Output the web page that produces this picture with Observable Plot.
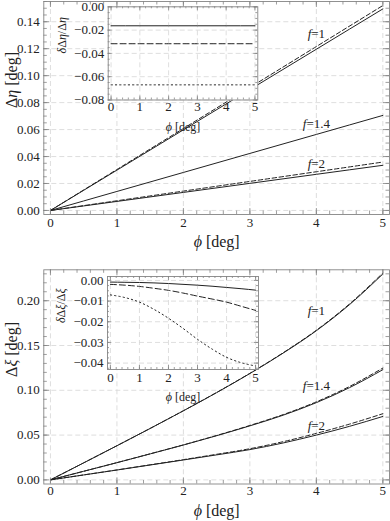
<!DOCTYPE html>
<html><head><meta charset="utf-8">
<script src="https://cdn.jsdelivr.net/npm/d3@7"></script>
<script src="https://cdn.jsdelivr.net/npm/@observablehq/plot@0.6"></script>
<style>
body{margin:0;background:#fff;}
#root{position:relative;width:390px;height:521px;font-family:"Liberation Serif",serif;overflow:hidden;}
#root svg{position:absolute;}
</style></head><body><div id="root"></div><script>
// ---------- data ----------
const phiTop = [0, 1, 2, 3, 4, 5];
const etaF1Solid  = [0, 0.0299, 0.0598, 0.0897, 0.1196, 0.1495];
const etaF1Dashed = [0, 0.0304, 0.0608, 0.0912, 0.1216, 0.1520];
const etaF14Solid = [0, 0.0141, 0.0282, 0.0423, 0.0564, 0.0705];
const etaF2Solid  = [0, 0.0067, 0.0134, 0.0201, 0.0268, 0.0335];
const etaF2Dashed = [0, 0.00718, 0.01436, 0.02154, 0.02872, 0.0359];

const relEtaF1  = [-0.0163, -0.0163, -0.0163, -0.0163, -0.0163, -0.0163];
const relEtaF14 = [-0.0317, -0.0317, -0.0317, -0.0317, -0.0317, -0.0317];
const relEtaF2  = [-0.0670, -0.0670, -0.0670, -0.0670, -0.0670, -0.0670];

const phiBottom = [0, 0.5, 1, 1.5, 2, 2.5, 3, 3.5, 4, 4.5, 5];
const xiF1Solid   = [0, 0.0190, 0.0381, 0.0574, 0.0771, 0.0974, 0.1187, 0.1415, 0.1665, 0.1957, 0.2298];
const xiF1Dashed  = [0, 0.01902, 0.03814, 0.05747, 0.07722, 0.09758, 0.11897, 0.14190, 0.16707, 0.19648, 0.23089];
const xiF14Solid  = [0, 0.0096, 0.0192, 0.0290, 0.0389, 0.0493, 0.0603, 0.0722, 0.0862, 0.1030, 0.1230];
const xiF14Dashed = [0, 0.00962, 0.01926, 0.02911, 0.03909, 0.0496, 0.06076, 0.07286, 0.08711, 0.1043, 0.1248];
const xiF2Solid   = [0, 0.0055, 0.0110, 0.0166, 0.0222, 0.0279, 0.0338, 0.0412, 0.0500, 0.0598, 0.0708];
const xiF2Dashed  = [0, 0.00555, 0.01112, 0.01684, 0.02261, 0.02856, 0.03479, 0.04262, 0.05193, 0.06228, 0.07386];

const relXiF1  = [-0.0008, -0.0009, -0.0010, -0.0012, -0.0015, -0.0019, -0.0023, -0.0028, -0.0034, -0.0040, -0.0047];
const relXiF14 = [-0.0019, -0.0023, -0.0029, -0.0038, -0.0048, -0.0061, -0.0076, -0.0090, -0.0105, -0.0125, -0.0145];
const relXiF2  = [-0.0070, -0.0083, -0.0105, -0.0140, -0.0183, -0.0232, -0.0285, -0.0332, -0.0372, -0.0398, -0.0414];

const phiTicks = [0, 1, 2, 3, 4, 5];
const etaTicks = [0, 0.02, 0.04, 0.06, 0.08, 0.10, 0.12, 0.14];
const xiTicks = [0, 0.05, 0.10, 0.15, 0.20];
const relEtaTicks = [0, -0.02, -0.04, -0.06, -0.08];
const relXiTicks = [0, -0.01, -0.02, -0.03, -0.04];

const labelText = ["f=1", "f=1.4", "f=2"];
const labelPhi = [4.0, 4.0, 4.0];
const labelEtaY = [0.1309, 0.0642, 0.0346];
const labelXiY = [0.1884, 0.1050, 0.0600];

// ---------- helpers ----------
const rows = (xs, ys) => xs.map((x, i) => ({x, y: ys[i]}));
const steps = (a, b, s) => d3.range(Math.round((b - a) / s) + 1).map(i => +(a + i * s).toFixed(6));
const INK = "#222", FRAME = "#858585", GRID = "#d6d6d6";
const FONT = "Liberation Serif";

function framed(o) {
  const W = o.width - o.ml - o.mr, H = o.height - o.mt - o.mb;
  const [x0, x1] = o.xd, [y0, y1] = [Math.min(...o.yd), Math.max(...o.yd)];
  const ix = v => v >= x0 - 1e-9 && v <= x1 + 1e-9, iy = v => v >= y0 - 1e-9 && v <= y1 + 1e-9;
  const xMaj = o.xMajor.filter(ix), xMin = o.xMinor.filter(ix);
  const yMaj = o.yMajor.filter(iy), yMin = o.yMinor.filter(iy);
  const tk = {stroke: FRAME, strokeWidth: 0.8};
  const tx = {fill: INK, fontFamily: FONT};
  const marks = [];
  if (o.bg) marks.push(Plot.frame({fill: "white", stroke: "none"}));
  marks.push(
    Plot.ruleX(xMaj, {x: d => d, stroke: GRID, strokeDasharray: "5,3", strokeWidth: 0.8}),
    Plot.ruleY(yMaj, {y: d => d, stroke: GRID, strokeDasharray: "5,3", strokeWidth: 0.8}),
    ...o.marks,
    Plot.ruleX(xMaj, {x: d => d, insetTop: H - o.maj, ...tk}),
    Plot.ruleX(xMaj, {x: d => d, insetBottom: H - o.maj, ...tk}),
    Plot.ruleX(xMin, {x: d => d, insetTop: H - o.min, ...tk}),
    Plot.ruleX(xMin, {x: d => d, insetBottom: H - o.min, ...tk}),
    Plot.ruleY(yMaj, {y: d => d, insetRight: W - o.maj, ...tk}),
    Plot.ruleY(yMaj, {y: d => d, insetLeft: W - o.maj, ...tk}),
    Plot.ruleY(yMin, {y: d => d, insetRight: W - o.min, ...tk}),
    Plot.ruleY(yMin, {y: d => d, insetLeft: W - o.min, ...tk}),
    Plot.frame({stroke: FRAME, strokeWidth: 0.9}),
    Plot.text(xMaj, {x: d => d, text: d => d3.format("d")(d), frameAnchor: "bottom", dy: o.xdy, fontSize: o.fs, ...tx}),
    Plot.text(yMaj, {y: d => d, text: d => d3.format(".2f")(d), frameAnchor: "left", dx: -4, textAnchor: "end", fontSize: o.fs, ...tx}),
    Plot.text([o.xLabel], {frameAnchor: "bottom", dy: o.xldy, fontSize: o.lfs, ...tx}),
    Plot.text([o.yLabel], {frameAnchor: "left", dx: o.yldx, rotate: -90, fontSize: o.lfs, ...tx})
  );
  const svg = Plot.plot({
    width: o.width, height: o.height,
    marginLeft: o.ml, marginRight: o.mr, marginTop: o.mt, marginBottom: o.mb,
    x: {domain: o.xd, axis: null},
    y: {domain: o.yd, axis: null},
    style: "background: transparent; font-family: 'Liberation Serif', serif; font-size: 12px; color: #222; overflow: visible;",
    marks
  });
  svg.style.left = (o.left || 0) + "px";
  svg.style.top = o.top + "px";
  return svg;
}

const line = (xs, ys, dash, w = 1) => Plot.line(rows(xs, ys), {x: "x", y: "y", stroke: INK, strokeWidth: w, strokeDasharray: dash, curve: "monotone-x"});
const MD = "4.5,2.5", ID = "6,3", DOT = "1.3,3";
const lbl = (ys) => Plot.text(labelText.map((t, i) => ({t, x: labelPhi[i], y: ys[i]})), {x: "x", y: "y", text: "t", fill: INK, fontSize: 13, fontFamily: FONT});

const root = document.getElementById("root");

// ---------- top main ----------
root.appendChild(framed({
  top: 0, width: 390, height: 260, ml: 43.3, mr: 1, mt: 1, mb: 46,
  xd: [-0.1, 5.1], yd: [-0.003, 0.155],
  xMajor: phiTicks, xMinor: steps(0, 5, 0.2), yMajor: etaTicks, yMinor: steps(0, 0.155, 0.005),
  maj: 6, min: 3.5, fs: 13, lfs: 16, xdy: 12, xldy: 32, yldx: -32,
  xLabel: "ϕ [deg]", yLabel: "Δη [deg]",
  marks: [
    line(phiTop, etaF1Dashed, MD), line(phiTop, etaF1Solid),
    line(phiTop, etaF14Solid),
    line(phiTop, etaF2Dashed, MD), line(phiTop, etaF2Solid),
    lbl(labelEtaY)
  ]
}));

// ---------- top inset ----------
root.appendChild(framed({
  top: 0, width: 270, height: 140, ml: 107.7, mr: 12.7, mt: 6.3, mb: 40.5, bg: true,
  xd: [-0.1, 5.1], yd: [-0.08, 0],
  xMajor: phiTicks, xMinor: steps(0, 5, 0.2), yMajor: relEtaTicks, yMinor: steps(-0.08, 0, 0.005),
  maj: 4, min: 2, fs: 13, lfs: 12, xdy: 11, xldy: 30.5, yldx: -46,
  xLabel: "ϕ [deg]", yLabel: "δΔη/Δη",
  marks: [
    line(phiTop, relEtaF1), line(phiTop, relEtaF14, ID), line(phiTop, relEtaF2, DOT)
  ]
}));

// ---------- bottom main ----------
root.appendChild(framed({
  top: 260, width: 390, height: 261, ml: 43.3, mr: 1, mt: 9.3, mb: 37.5,
  xd: [-0.1, 5.1], yd: [-0.0046, 0.2345],
  xMajor: phiTicks, xMinor: steps(0, 5, 0.2), yMajor: xiTicks, yMinor: steps(0, 0.23, 0.01),
  maj: 6, min: 3.5, fs: 13, lfs: 16, xdy: 11, xldy: 31.5, yldx: -32,
  xLabel: "ϕ [deg]", yLabel: "Δξ [deg]",
  marks: [
    line(phiBottom, xiF1Dashed, MD), line(phiBottom, xiF1Solid),
    line(phiBottom, xiF14Dashed, MD), line(phiBottom, xiF14Solid),
    line(phiBottom, xiF2Dashed, MD), line(phiBottom, xiF2Solid),
    lbl(labelXiY)
  ]
}));

// ---------- bottom inset ----------
root.appendChild(framed({
  top: 260, width: 270, height: 150, ml: 107, mr: 12, mt: 16, mb: 41, bg: true,
  xd: [-0.1, 5.1], yd: [-0.0431, 0.0019],
  xMajor: phiTicks, xMinor: steps(0, 5, 0.2), yMajor: relXiTicks, yMinor: steps(-0.0425, 0, 0.0025),
  maj: 4, min: 2, fs: 13, lfs: 12, xdy: 12, xldy: 31.5, yldx: -46,
  xLabel: "ϕ [deg]", yLabel: "δΔξ/Δξ",
  marks: [
    line(phiBottom, relXiF1), line(phiBottom, relXiF14, ID), line(phiBottom, relXiF2, DOT)
  ]
}));

// italicise variable letters (f, η, ξ, δ, ϕ) inside texts
const ital = /[fηξδϕ]/;
root.querySelectorAll("text").forEach(el => {
  const s = el.textContent;
  if (!ital.test(s) || el.children.length) return;
  el.textContent = "";
  let run = "", runIt = null;
  const flush = () => {
    if (!run) return;
    const t = document.createElementNS("http://www.w3.org/2000/svg", "tspan");
    if (runIt) t.setAttribute("font-style", "italic");
    t.textContent = run;
    el.appendChild(t);
    run = "";
  };
  for (const ch of s) {
    const it = ital.test(ch);
    if (runIt !== null && it !== runIt) flush();
    runIt = it; run += ch;
  }
  flush();
});
</script></body></html>
